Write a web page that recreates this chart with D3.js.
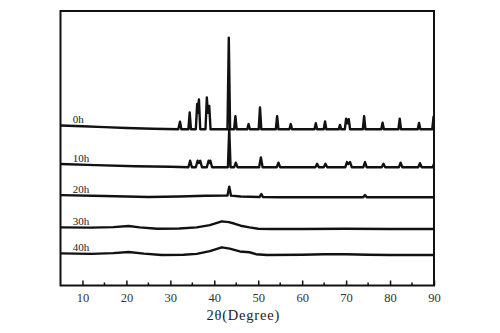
<!DOCTYPE html>
<html>
<head>
<meta charset="utf-8">
<script src="https://cdn.jsdelivr.net/npm/d3@7"></script>
<style>
  body { margin: 0; background: #fff; }
  text { font-family: "Liberation Serif", "DejaVu Serif", serif; }
</style>
</head>
<body>
<script>
// XRD patterns, intensity relative to each curve's own baseline (a.u.)
const labels = ["0h", "10h", "20h", "30h", "40h"];
const offsets = [56.9, 43.06, 32.13, 20.58, 11.11];

const h0 = [
    [5, 1.4], [10, 1.1], [15, 0.8], [20, 0.5], [26, 0.2], [31.8, 0],
    [32.2, 2.8], [32.5, 0], [34.1, 0], [34.4, 6.1], [34.7, 0], [35.8, 0],
    [36.1, 9.2], [36.3, 6], [36.5, 10.9], [36.8, 0], [38.0, 0], [38.3, 11.6],
    [38.55, 6], [38.85, 8.5], [39.15, 0], [43.0, 0], [43.3, 33.4], [43.6, 0],
    [44.5, 0], [44.8, 4.8], [45.1, 0], [47.5, 0], [47.8, 1.9], [48.1, 0],
    [50.1, 0], [50.4, 8.0], [50.7, 0], [54.0, 0], [54.3, 4.8], [54.6, 0],
    [57.1, 0], [57.4, 1.9], [57.7, 0], [62.8, 0], [63.1, 2.2], [63.4, 0],
    [64.9, 0], [65.2, 2.9], [65.5, 0], [68.3, 0], [68.6, 1.6], [68.9, 0],
    [69.7, 0], [70.0, 3.9], [70.3, 2.2], [70.6, 3.7], [70.9, 0], [73.8, 0],
    [74.1, 4.8], [74.4, 0], [78.0, 0], [78.3, 2.4], [78.6, 0], [81.9, 0],
    [82.2, 3.9], [82.5, 0], [86.3, 0], [86.6, 2.3], [86.9, 0], [89.6, 0],
    [89.9, 4.6], [90, 3]
];

const h10 = [
    [5, 1.2], [13, 0.8], [22, 0.4], [30, 0.2], [34.1, 0], [34.5, 2.4], [34.9, 0],
    [35.8, 0], [36.2, 2.4], [36.5, 1.6], [36.8, 2.4], [37.2, 0], [38.3, 0],
    [38.7, 2.4], [38.9, 1.6], [39.1, 2.4], [39.5, 0], [43.1, 0], [43.4, 14.0],
    [43.7, 0], [44.5, 0], [44.9, 1.7], [45.3, 0], [50.2, 0], [50.6, 3.6],
    [51.0, 0], [54.2, 0], [54.6, 1.7], [55.0, 0], [63.0, 0], [63.4, 1.3],
    [63.8, 0], [64.9, 0], [65.3, 1.3], [65.7, 0], [69.8, 0], [70.2, 1.9],
    [70.5, 1.2], [70.9, 1.9], [71.3, 0], [73.9, 0], [74.3, 1.9], [74.7, 0],
    [78.1, 0], [78.5, 1.3], [78.9, 0], [82.0, 0], [82.4, 1.7], [82.8, 0],
    [86.4, 0], [86.8, 1.5], [87.2, 0], [89.7, 0], [90, 1.2]
];

const h20 = [
    [5, 0.8], [15, 0.5], [25, 0.1], [32, 0.3], [38, 0.55], [43.0, 0.65],
    [43.4, 3.9], [43.8, 0.6], [46, 0.3], [50.3, 0.1], [50.7, 1.2], [51.1, 0.05],
    [55, 0], [73.9, 0], [74.3, 0.8], [74.7, 0], [90, 0]
];

const h30 = [
    [5, 0.6], [12, 0.5], [17, 0.7], [20.5, 1.1], [23, 0.6], [27, 0.1], [32, 0.2],
    [36, 0.6], [39, 1.4], [41.7, 2.8], [43.3, 2.5], [44.5, 2.0], [46, 1.2],
    [48, 0.6], [50, 0.1], [53, 0], [60, 0], [70, 0.1], [80, 0], [90, 0]
];

const h40 = [
    [5, 0.6], [12, 0.4], [17, 0.7], [20.5, 1.1], [24, 0.5], [28, 0], [33, 0.1],
    [36, 0.4], [39, 1.4], [41.7, 2.8], [43.5, 2.3], [45.8, 1.3], [48, 1.0],
    [49.5, 0.3], [52, 0], [60, 0.1], [65, 0.3], [70, 0.3], [75, 0.1], [80, 0], [90, 0]
];

const series = [h0, h10, h20, h30, h40];
const xTicks = [10, 20, 30, 40, 50, 60, 70, 80, 90];
const xMinor = [15, 25, 35, 45, 55, 65, 75, 85];

const margin = { top: 11, left: 60.5 };
const width = 373.5, height = 274.5;

const svg = d3.select("body")
    .append("svg")
    .attr("width", 500)
    .attr("height", 333)
    .append("g")
    .attr("transform", `translate(${margin.left},${margin.top})`);

const x = d3.scaleLinear().domain([5, 90]).range([0, width]);
const y = d3.scaleLinear().domain([0, 100]).range([height, 0]);

// curves
svg.append("g")
    .selectAll("path")
    .data(series)
    .enter()
    .append("path")
    .attr("d", (d, i) => d3.line()
        .x(p => x(p[0]))
        .y(p => y(p[1] + offsets[i]))(d))
    .attr("fill", "none")
    .attr("stroke", "#111")
    .attr("stroke-width", 2.4)
    .attr("stroke-linejoin", "round");

// curve names
svg.append("g")
    .selectAll("text")
    .data(labels)
    .enter()
    .append("text")
    .text(d => d)
    .attr("x", x(7.8))
    .attr("y", (d, i) => y(offsets[i] + series[i][0][1]) - 2)
    .attr("font-size", 11)
    .attr("fill", "#222");

// bottom axis, ticks inside
const axis = svg.append("g")
    .attr("transform", `translate(0,${height})`)
    .call(d3.axisBottom(x).tickValues(xTicks).tickSize(-5).tickPadding(8))
    .call(g => g.select(".domain").remove());
axis.selectAll("line").attr("stroke", "#111").attr("stroke-width", 1.5);
axis.selectAll("text")
    .attr("font-family", "Liberation Serif, serif")
    .attr("font-size", 12.5)
    .attr("fill", "#333");

svg.append("g")
    .attr("transform", `translate(0,${height})`)
    .selectAll("line")
    .data(xMinor)
    .enter()
    .append("line")
    .attr("x1", d => x(d))
    .attr("x2", d => x(d))
    .attr("y1", 0)
    .attr("y2", -3)
    .attr("stroke", "#111")
    .attr("stroke-width", 1.5);

// frame
svg.append("rect")
    .attr("width", width)
    .attr("height", height)
    .attr("fill", "none")
    .attr("stroke", "#111")
    .attr("stroke-width", 2);

svg.append("text")
    .text("2θ(Degree)")
    .attr("x", x(47.5) - 4)
    .attr("y", height + 34)
    .attr("text-anchor", "middle")
    .attr("font-size", 14.5)
    .attr("letter-spacing", 0.8)
    .attr("fill", "#222");
</script>
</body>
</html>
